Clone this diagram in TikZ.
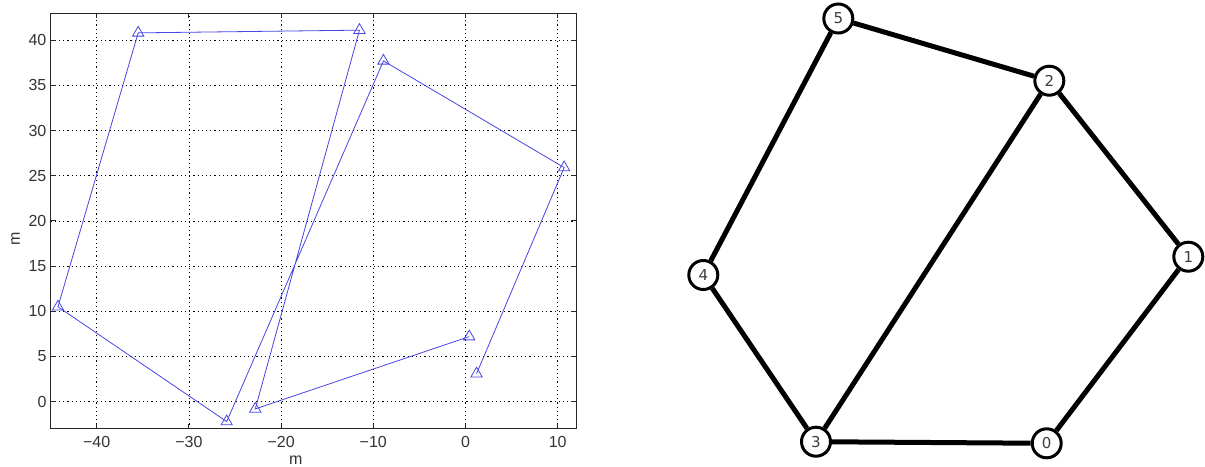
\documentclass[tikz,border=0pt]{standalone}
\usepackage{fontspec}
\setmainfont{Liberation Sans}
\newfontfamily\nodefont{DejaVu Sans}
\usetikzlibrary{shapes.geometric}
\definecolor{plotblue}{RGB}{70,70,225}
\definecolor{lblgray}{RGB}{60,60,60}
\begin{document}
\begin{tikzpicture}[x=1pt,y=-1pt,
  gridline/.style={black, line width=0.7pt, dash pattern=on 1.2pt off 3pt},
  axisbox/.style={black!85, line width=0.9pt},
  ticklbl/.style={font=\fontsize{16}{19}\selectfont, text=black!80, inner sep=0pt},
  trace/.style={plotblue, line width=0.8pt},
  tri/.style={regular polygon, regular polygon sides=3, draw=plotblue, line width=0.8pt, minimum size=13pt, inner sep=0pt},
  vert/.style={circle, draw=black, fill=white, line width=3pt, minimum size=29pt, inner sep=0pt, font=\nodefont\fontsize{15}{17}\selectfont, text=lblgray},
  gedge/.style={black, line width=5pt}
]
\useasboundingbox (0,0) rectangle (1205,466);

% ---------------- left plot ----------------
\begin{scope}[shift={(465.5pt,-401.7pt)}, x=9.22pt, y=9.04pt]
  \foreach \gx in {-40,-30,...,10} \draw[gridline] (\gx,-3) -- (\gx,43);
  \foreach \gy in {0,5,...,40} \draw[gridline] (-45,\gy) -- (12,\gy);
  \foreach \gx in {-40,-30,...,10} {
    \draw[axisbox] (\gx,-3) -- ++(0,5pt);
    \draw[axisbox] (\gx,43) -- ++(0,-5pt);
  }
  \foreach \gy in {0,5,...,40} {
    \draw[axisbox] (-45,\gy) -- ++(5pt,0);
    \draw[axisbox] (12,\gy) -- ++(-5pt,0);
  }
  \draw[axisbox] (-45,-3) rectangle (12,43);
  \foreach \gx/\t in {-40/−40,-30/−30,-20/−20,-10/−10,0/0,10/10}
    \node[ticklbl, anchor=north] (xl\gx) at ([yshift=-7pt]\gx,-3) {\t};
  \foreach \gy in {0,5,...,40}
    \node[ticklbl, anchor=east] (yl\gy) at ([xshift=-4pt]-45,\gy) {\gy};
  \node[ticklbl] (xlab) at ([yshift=-31pt]-18.4,-3) {m};
  \node[ticklbl, rotate=90] (ylab) at ([xshift=-35pt]-45,18) {m};

  \coordinate (p1) at (1.2,3.1);
  \coordinate (p2) at (10.7,25.9);
  \coordinate (p3) at (-8.9,37.7);
  \coordinate (p4) at (-25.9,-2.2);
  \coordinate (p5) at (-44.2,10.5);
  \coordinate (p6) at (-35.5,40.8);
  \coordinate (p7) at (-11.5,41.1);
  \coordinate (p8) at (-22.8,-0.8);
  \coordinate (p9) at (0.4,7.2);
  \draw[trace] (p1) -- (p2) -- (p3) -- (p4) -- (p5) -- (p6) -- (p7) -- (p8) -- (p9);
  \foreach \p in {1,...,9} \node[tri] (m\p) at (p\p) {};
\end{scope}

% ---------------- right graph ----------------
\node[vert] (n5) at (838.3,18.5) {5};
\node[vert] (n2) at (1049.3,80.7) {2};
\node[vert] (n1) at (1188.3,256.7) {1};
\node[vert] (n0) at (1046.7,443.3) {0};
\node[vert] (n3) at (816,441.7) {3};
\node[vert] (n4) at (703.3,275) {4};
\draw[gedge] (n5) -- (n2);
\draw[gedge] (n5) -- (n4);
\draw[gedge] (n2) -- (n1);
\draw[gedge] (n2) -- (n3);
\draw[gedge] (n4) -- (n3);
\draw[gedge] (n3) -- (n0);
\draw[gedge] (n0) -- (n1);
\end{tikzpicture}
\end{document}
